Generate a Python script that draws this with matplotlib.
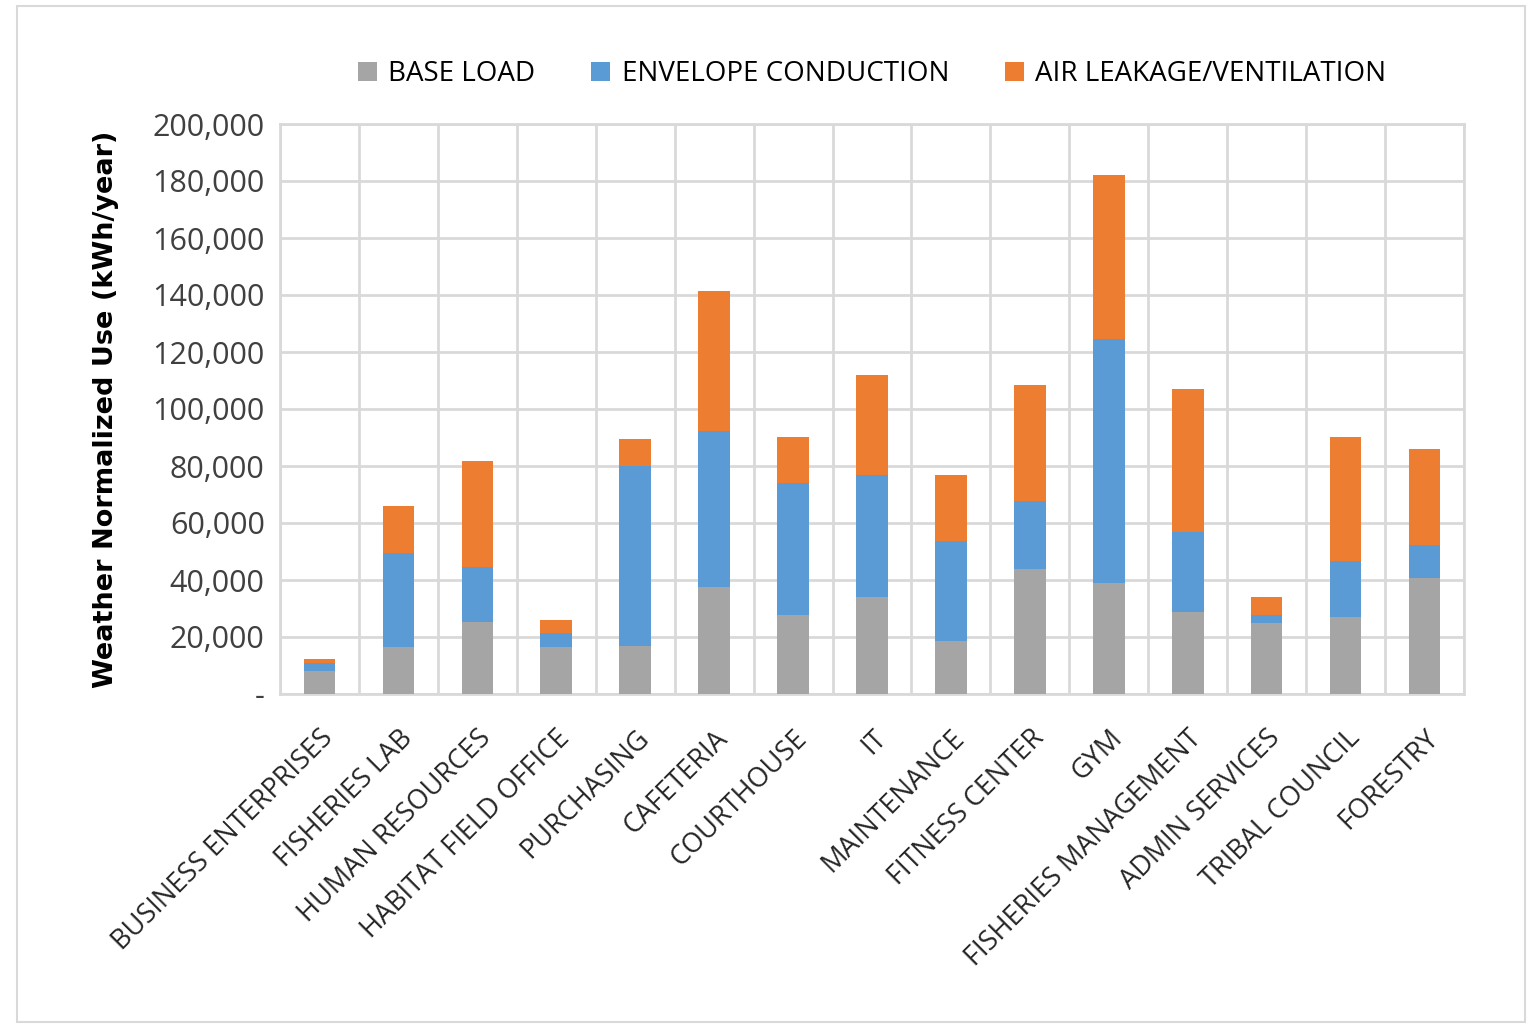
import numpy as np
import matplotlib.pyplot as plt
from matplotlib.ticker import FuncFormatter, FixedLocator
from matplotlib.patches import Rectangle

buildings = ["BUSINESS ENTERPRISES", "FISHERIES LAB", "HUMAN RESOURCES", "HABITAT FIELD OFFICE",
             "PURCHASING", "CAFETERIA", "COURTHOUSE", "IT", "MAINTENANCE", "FITNESS CENTER",
             "GYM", "FISHERIES MANAGEMENT", "ADMIN SERVICES", "TRIBAL COUNCIL", "FORESTRY"]
base_load = [8000, 16500, 25300, 16500, 16800, 37500, 27700, 34000, 18600, 43900,
             38900, 28800, 24900, 27000, 40700]
envelope = [2900, 33000, 19300, 4900, 63200, 54800, 46300, 42800, 35100, 23800,
            85700, 28000, 2800, 19700, 11600]
air_leakage = [1400, 16500, 37200, 4600, 9500, 49100, 16200, 35200, 23100, 40700,
               57400, 50200, 6300, 43500, 33700]

plt.rcParams['font.family'] = ['Open Sans', 'DejaVu Sans']

fig = plt.figure(figsize=(15.27, 10.24), dpi=100)
fig.patches.append(Rectangle((17/1527, 2/1024), 1508/1527, 1016/1024, transform=fig.transFigure,
                             fill=False, edgecolor='#d9d9d9', linewidth=1.5))
ax = fig.add_axes([280/1527, 1-694/1024, 1184/1527, 570/1024])

x = np.arange(len(buildings))
w = 0.4
base = np.array(base_load)
env = np.array(envelope)
air = np.array(air_leakage)
ax.bar(x, base, w, color='#a5a5a5', label='BASE LOAD', zorder=3)
ax.bar(x, env, w, bottom=base, color='#5b9bd5', label='ENVELOPE CONDUCTION', zorder=3)
ax.bar(x, air, w, bottom=base + env, color='#ed7d31', label='AIR LEAKAGE/VENTILATION', zorder=3)

ax.set_xlim(-0.5, len(buildings) - 0.5)
ax.set_ylim(0, 200000)
ax.set_yticks(np.arange(0, 200001, 20000))
ax.yaxis.set_major_formatter(FuncFormatter(lambda v, p: '-' if v == 0 else f'{int(v):,}'))
ax.set_xticks(x)
ax.set_xticklabels(buildings, rotation=45, ha='right', rotation_mode='anchor', fontsize=19.5,
                   color='#262626')
ax.xaxis.set_minor_locator(FixedLocator(np.arange(-0.5, len(buildings), 1)))
ax.tick_params(axis='x', which='both', length=0, pad=22)
ax.tick_params(axis='y', length=0, labelsize=22, labelcolor='#404040', pad=11)
ax.grid(axis='y', color='#d9d9d9', linewidth=2, zorder=0)
ax.grid(axis='x', which='minor', color='#d9d9d9', linewidth=2, zorder=0)
for s in ax.spines.values():
    s.set_color('#d9d9d9')
    s.set_linewidth(2)

ax.set_ylabel('Weather Normalized Use (kWh/year)', fontsize=19.5, fontweight='bold',
              family=['DejaVu Sans'], labelpad=24)

ax.legend(loc='center', bbox_to_anchor=(0.5, 1 + 50/570), ncol=3, frameon=False,
          fontsize=20, handlelength=0.7, handleheight=0.7, columnspacing=2.0, handletextpad=0.4)

fig.savefig('out.png', dpi=100)
